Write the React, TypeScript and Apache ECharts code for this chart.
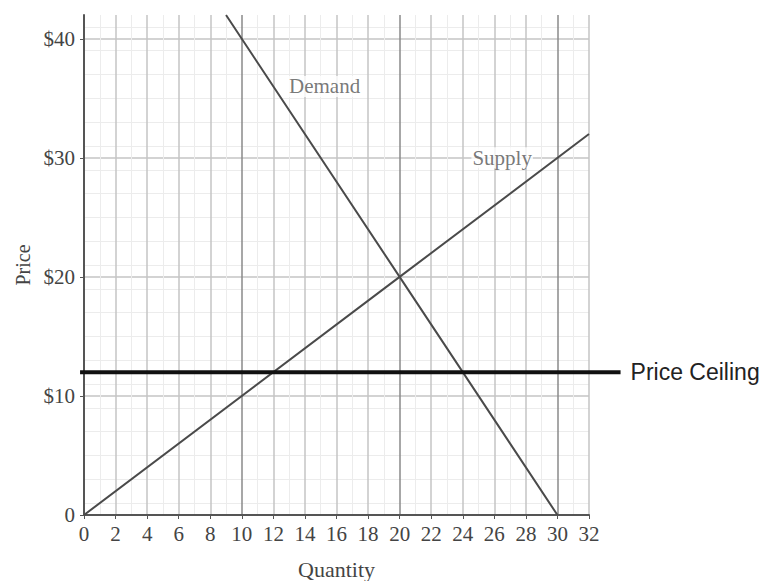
import React, { useEffect, useRef } from "react";
import * as echarts from "echarts";

const xTickValues = [0, 2, 4, 6, 8, 10, 12, 14, 16, 18, 20, 22, 24, 26, 28, 30, 32];
const yTickValues = [0, 10, 20, 30, 40];
const yTickLabels = ["0", "$10", "$20", "$30", "$40"];
const demandPoints: [number, number][] = [[9, 42], [20, 20], [30, 0]];
const supplyPoints: [number, number][] = [[0, 0], [20, 20], [32, 32]];
const ceilingPoints: [number, number][] = [[-0.25, 12], [34, 12]];
const curveLabels: [number, number, string][] = [[12.93, 36, "Demand"], [24.55, 30, "Supply"]];

const SERIF = "'Liberation Serif', 'DejaVu Serif', serif";
const SANS = "'Liberation Sans', Arial, sans-serif";

export default function App() {
  const ref = useRef<HTMLDivElement>(null);
  useEffect(() => {
    if (!ref.current) return;
    const chart = echarts.init(ref.current, undefined, { renderer: "svg" });
    const gridColors = ["#8a8a8a", "#c4c4c4", "#c4c4c4", "#c4c4c4", "#c4c4c4"];
    const pxPerUnit = 505 / 32;
    const extRight = 769 - (84 + 34 * pxPerUnit);
    const extLeft = 84 - 0.25 * pxPerUnit;
    chart.setOption({
      animation: false,
      backgroundColor: "#ffffff",
      grid: [
        { left: 84, top: 15, right: 180, bottom: 66, containLabel: false, outerBoundsMode: "none" },
        { left: extLeft, top: 15, right: extRight, bottom: 66, containLabel: false, outerBoundsMode: "none" },
      ],
      xAxis: [
        {
          type: "value",
          gridIndex: 0,
          min: 0,
          max: 32,
          interval: 2,
          name: "Quantity",
          nameLocation: "middle",
          nameGap: 43,
          nameTextStyle: { fontFamily: SERIF, fontSize: 22, color: "#444" },
          axisLine: { show: true, onZero: false, lineStyle: { color: "#555", width: 2 } },
          axisTick: { show: true, length: 4, lineStyle: { color: "#555" } },
          axisLabel: {
            fontFamily: SERIF,
            fontSize: 21,
            color: "#444",
            margin: 8,
            customValues: xTickValues,
            formatter: (v: number) => String(v),
          },
          splitLine: { show: true, lineStyle: { color: gridColors, width: 1.5 } },
          minorTick: { show: false, splitNumber: 2 },
          minorSplitLine: { show: true, lineStyle: { color: "#ececec", width: 1 } },
        },
        {
          type: "value",
          gridIndex: 1,
          min: -0.25,
          max: 34,
          show: false,
        },
      ],
      yAxis: [
        {
          type: "value",
          gridIndex: 0,
          min: 0,
          max: 42,
          interval: 2,
          name: "Price",
          nameLocation: "middle",
          nameGap: 50,
          nameTextStyle: { fontFamily: SERIF, fontSize: 20, color: "#444" },
          axisLine: { show: true, onZero: false, lineStyle: { color: "#555", width: 2 } },
          axisTick: { show: true, length: 4, customValues: yTickValues, lineStyle: { color: "#555" } },
          axisLabel: {
            fontFamily: SERIF,
            fontSize: 21,
            color: "#444",
            margin: 9,
            customValues: yTickValues,
            formatter: (v: number) => yTickLabels[yTickValues.indexOf(v)] ?? "",
          },
          splitLine: { show: true, lineStyle: { color: gridColors, width: 1.5 } },
          minorTick: { show: false, splitNumber: 2 },
          minorSplitLine: { show: true, lineStyle: { color: "#ececec", width: 1 } },
        },
        {
          type: "value",
          gridIndex: 1,
          min: 0,
          max: 42,
          show: false,
        },
      ],
      series: [
        {
          name: "Demand",
          type: "line",
          data: demandPoints,
          symbol: "none",
          lineStyle: { color: "#4a4a4a", width: 2 },
          z: 3,
        },
        {
          name: "Supply",
          type: "line",
          data: supplyPoints,
          symbol: "none",
          lineStyle: { color: "#4a4a4a", width: 2 },
          z: 3,
        },
        {
          name: "Price Ceiling",
          type: "line",
          xAxisIndex: 1,
          yAxisIndex: 1,
          data: ceilingPoints,
          symbol: "none",
          lineStyle: { color: "#111", width: 4 },
          endLabel: {
            show: true,
            formatter: "Price Ceiling",
            fontFamily: SANS,
            fontSize: 23,
            color: "#222",
            distance: 10,
          },
          z: 4,
        },
        {
          name: "labels",
          type: "scatter",
          data: curveLabels,
          symbolSize: 0,
          label: {
            show: true,
            position: "right",
            distance: 0,
            formatter: (p: any) => p.data[2],
            fontFamily: SERIF,
            fontSize: 21,
            color: "#555",
            backgroundColor: "#ffffff",
            padding: [0, 1],
          },
          z: 5,
        },
      ],
    });
    return () => chart.dispose();
  }, []);
  return <div ref={ref} style={{ width: 769, height: 581, position: "absolute", left: 0, top: 0 }} />;
}
